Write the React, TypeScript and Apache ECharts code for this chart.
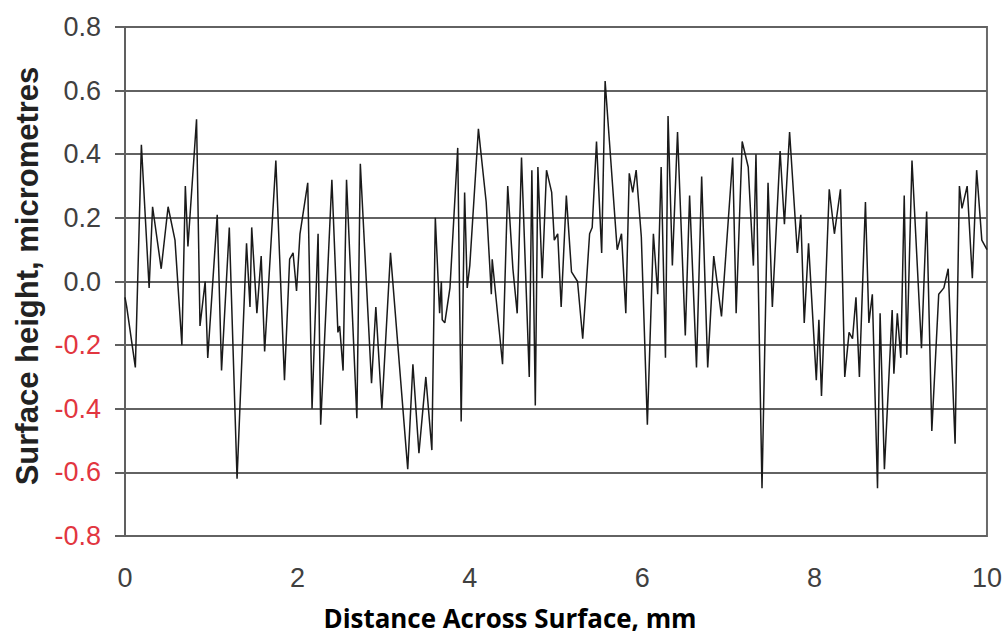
import React, { useEffect, useRef } from "react";
import * as echarts from "echarts";

const xTicks = [0, 2, 4, 6, 8, 10];
const yTicks = [-0.8, -0.6, -0.4, -0.2, 0, 0.2, 0.4, 0.6, 0.8];

const distanceMm = [
  0.0, 0.02, 0.12, 0.19, 0.28, 0.32, 0.42, 0.5, 0.58, 0.66, 0.7, 0.73, 0.83, 0.87, 0.93, 0.96,
  1.07, 1.12, 1.21, 1.3, 1.41, 1.45, 1.47, 1.53, 1.58, 1.62, 1.75, 1.85, 1.91, 1.95, 1.99,
  2.03, 2.12, 2.17, 2.24, 2.27, 2.4, 2.47, 2.49, 2.53, 2.57, 2.69, 2.73, 2.86, 2.91, 2.98,
  3.08, 3.28, 3.34, 3.41, 3.49, 3.56, 3.6, 3.65, 3.67, 3.68, 3.71, 3.77, 3.86, 3.9, 3.94,
  3.97, 4.0, 4.1, 4.19, 4.25, 4.26, 4.38, 4.44, 4.5, 4.55, 4.6, 4.69, 4.72, 4.76, 4.79,
  4.84, 4.89, 4.95, 4.98, 5.02, 5.06, 5.12, 5.18, 5.25, 5.31, 5.39, 5.42, 5.47, 5.53, 5.57,
  5.62, 5.71, 5.76, 5.81, 5.85, 5.89, 5.93, 5.99, 6.06, 6.13, 6.18, 6.22, 6.27, 6.3, 6.35,
  6.41, 6.5, 6.55, 6.63, 6.69, 6.76, 6.83, 6.92, 7.05, 7.09, 7.16, 7.23, 7.29, 7.32, 7.39,
  7.46, 7.51, 7.6, 7.65, 7.71, 7.8, 7.84, 7.88, 7.93, 8.02, 8.05, 8.08, 8.17, 8.23, 8.3,
  8.35, 8.4, 8.44, 8.48, 8.52, 8.59, 8.63, 8.67, 8.73, 8.76, 8.81, 8.9, 8.92, 8.96, 9.0,
  9.04, 9.07, 9.13, 9.24, 9.3, 9.36, 9.44, 9.5, 9.55, 9.63, 9.68, 9.71, 9.77, 9.83, 9.88,
  9.94, 10.0,
];

const heightUm = [
  -0.05, -0.08, -0.27, 0.43, -0.02, 0.235, 0.04, 0.235, 0.13, -0.2, 0.3, 0.11, 0.51, -0.14, 0.0, -0.24,
  0.21, -0.28, 0.17, -0.62, 0.12, -0.08, 0.17, -0.1, 0.08, -0.22, 0.38, -0.31, 0.07, 0.09, -0.03,
  0.15, 0.31, -0.4, 0.15, -0.45, 0.32, -0.16, -0.14, -0.28, 0.32, -0.43, 0.37, -0.32, -0.08, -0.4,
  0.09, -0.59, -0.26, -0.54, -0.3, -0.53, 0.2, -0.1, 0.0, -0.12, -0.13, -0.02, 0.42, -0.44, 0.28,
  -0.02, 0.05, 0.48, 0.25, -0.04, 0.07, -0.26, 0.3, 0.04, -0.1, 0.39, -0.3, 0.35, -0.39, 0.36,
  0.01, 0.35, 0.28, 0.13, 0.15, -0.08, 0.27, 0.03, 0.0, -0.18, 0.15, 0.17, 0.44, 0.09, 0.63,
  0.44, 0.1, 0.15, -0.1, 0.34, 0.28, 0.35, 0.14, -0.45, 0.15, -0.04, 0.36, -0.24, 0.52, 0.05,
  0.47, -0.17, 0.27, -0.27, 0.33, -0.27, 0.08, -0.11, 0.39, -0.1, 0.44, 0.36, 0.05, 0.4, -0.65,
  0.31, -0.08, 0.41, 0.18, 0.47, 0.09, 0.21, -0.13, 0.12, -0.31, -0.12, -0.36, 0.29, 0.15, 0.29,
  -0.3, -0.16, -0.18, -0.05, -0.3, 0.25, -0.13, -0.04, -0.65, -0.1, -0.59, -0.09, -0.29, -0.1, -0.24,
  0.27, -0.23, 0.38, -0.21, 0.22, -0.47, -0.04, -0.02, 0.04, -0.51, 0.3, 0.23, 0.3, 0.01, 0.35,
  0.13, 0.1,
];

const xTitle = "Distance Across Surface, mm";
const yTitle = "Surface height, micrometres";

export default function App() {
  const ref = useRef<HTMLDivElement>(null);

  useEffect(() => {
    if (!ref.current) return;
    const chart = echarts.init(ref.current, undefined, { renderer: "svg" });
    const data = distanceMm.map((x, i) => [x, heightUm[i]]);
    chart.setOption({
      animation: false,
      backgroundColor: "#ffffff",
      grid: {
        left: 125,
        right: 17,
        top: 27,
        bottom: 101,
        show: true,
        borderColor: "#6a6a6a",
        borderWidth: 2,
      },
      xAxis: {
        type: "value",
        min: xTicks[0],
        max: xTicks[xTicks.length - 1],
        interval: 2,
        axisLine: { show: true, lineStyle: { color: "#606060", width: 2 } },
        axisTick: { show: false },
        splitLine: { show: false },
        axisLabel: {
          margin: 28,
          fontFamily: "Liberation Sans",
          fontSize: 27,
          color: "#404040",
        },
      },
      yAxis: {
        type: "value",
        min: yTicks[0],
        max: yTicks[yTicks.length - 1],
        interval: 0.2,
        axisLine: { show: true, lineStyle: { color: "#606060", width: 2 } },
        axisTick: { show: true, inside: false, length: 10, lineStyle: { color: "#606060", width: 2 } },
        splitLine: { show: true, lineStyle: { color: "#626262", width: 2 } },
        axisLabel: {
          margin: 24,
          fontFamily: "Liberation Sans",
          fontSize: 27,
          formatter: (v: number) => v.toFixed(1),
          color: (v: any) => (Number(v) < -1e-9 ? "#e2363f" : "#404040"),
        },
      },
      series: [
        {
          type: "line",
          data,
          showSymbol: false,
          symbol: "none",
          lineStyle: { color: "#1a1a1a", width: 1.5 },
          z: 5,
        },
      ],
      graphic: [
        {
          type: "text",
          x: 510,
          y: 618,
          scaleX: 0.96,
          style: {
            text: xTitle,
            fontFamily: "Open Sans",
            fontWeight: "bold",
            fontSize: 27,
            fill: "#000000",
            textAlign: "center",
            textVerticalAlign: "middle",
          },
        },
        {
          type: "text",
          x: 27,
          y: 276,
          rotation: Math.PI / 2,
          style: {
            text: yTitle,
            fontFamily: "Liberation Sans",
            fontWeight: "bold",
            fontSize: 31,
            fill: "#222222",
            textAlign: "center",
            textVerticalAlign: "middle",
          },
        },
      ],
    });
    return () => chart.dispose();
  }, []);

  return (
    <div
      ref={ref}
      style={{ position: "fixed", left: 0, top: 0, width: 1005, height: 637 }}
    />
  );
}
